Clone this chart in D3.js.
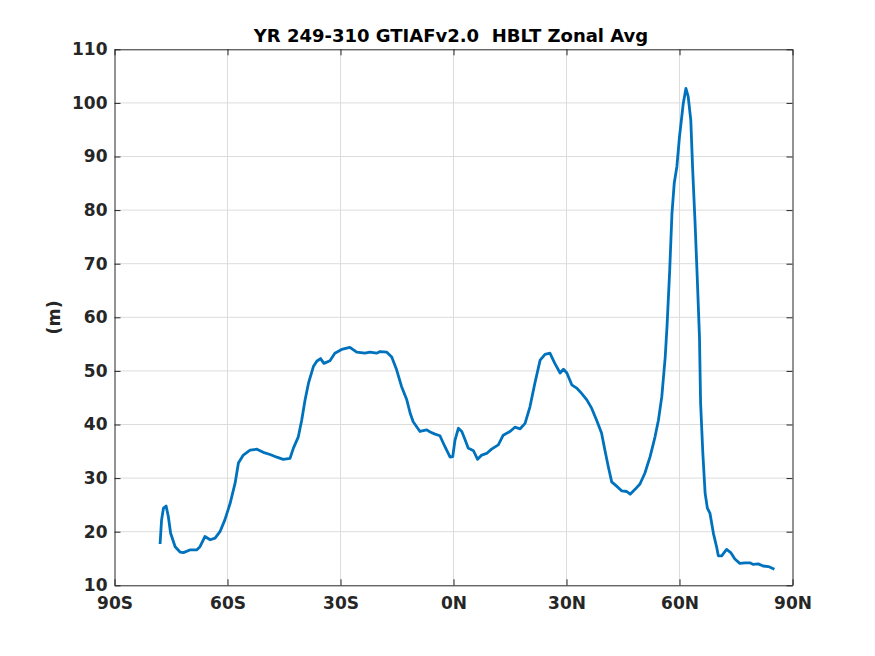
<!DOCTYPE html>
<html>
<head>
<meta charset="utf-8">
<script src="https://cdn.jsdelivr.net/npm/d3@7"></script>
<style>
  body { margin: 0; background: #fff; }
  svg { display: block; }
  text { font-family: "DejaVu Sans", sans-serif; font-weight: bold; white-space: pre; }
</style>
</head>
<body>
<svg id="chart" width="875" height="656"></svg>
<script>
// zonal average HBLT (m) vs latitude
var lat = [-77.9, -77.5, -77.0, -76.3, -75.7, -75.1, -73.9, -72.6, -71.7, -70.0,
    -68.2, -67.3, -66.0, -64.6, -63.3, -62.0, -60.7, -59.3, -58.0, -57.1,
    -55.8, -54.0, -52.2, -50.5, -48.7, -46.9, -45.2, -43.4, -42.5, -41.2,
    -40.3, -39.4, -38.5, -37.2, -36.3, -35.3, -34.4, -32.8, -31.5, -29.7,
    -27.5, -25.7, -23.5, -22.2, -20.4, -19.5, -17.7, -16.4, -15.1, -13.8,
    -12.4, -11.5, -10.7, -8.9, -7.1, -6.2, -4.9, -3.6, -2.3, -0.9,
    -0.2, 0.4, 1.3, 2.2, 3.1, 3.9, 5.3, 6.4, 7.5, 8.8,
    10.1, 11.9, 13.2, 15.0, 16.3, 17.7, 19.0, 20.3, 21.6, 23.0,
    24.3, 25.6, 26.9, 28.3, 29.2, 30.1, 31.4, 32.7, 34.0, 35.4,
    36.7, 38.0, 39.3, 40.2, 41.1, 42.0, 43.3, 44.7, 46.0, 46.9,
    48.2, 49.5, 50.8, 52.2, 53.5, 54.4, 55.3, 56.2, 56.7, 57.4,
    58.0, 58.6, 59.3, 60.0, 61.0, 61.7, 62.3, 63.0, 63.5, 64.1,
    64.7, 65.3, 65.6, 66.2, 66.8, 67.4, 68.1, 69.0, 69.9, 70.3,
    71.2, 72.5, 73.6, 74.7, 76.0, 77.4, 78.7, 79.6, 80.9, 82.2,
    83.6, 85.2];
var hblt = [17.7, 22.2, 24.4, 24.8, 22.8, 19.7, 17.2, 16.2, 16.1, 16.6,
    16.6, 17.2, 19.1, 18.5, 18.8, 20.0, 22.2, 25.3, 29.0, 32.8,
    34.3, 35.2, 35.4, 34.8, 34.4, 33.9, 33.5, 33.7, 35.6, 37.7,
    40.8, 44.6, 47.7, 50.8, 51.8, 52.3, 51.4, 51.9, 53.3, 54.0,
    54.4, 53.5, 53.3, 53.5, 53.3, 53.6, 53.5, 52.6, 50.2, 47.1,
    44.6, 42.1, 40.5, 38.7, 39.0, 38.6, 38.2, 37.9, 35.9, 33.9,
    34.0, 37.1, 39.3, 38.7, 37.1, 35.6, 35.1, 33.5, 34.3, 34.6,
    35.4, 36.2, 38.0, 38.7, 39.5, 39.2, 40.2, 43.3, 47.7, 52.0,
    53.1, 53.3, 51.4, 49.6, 50.3, 49.6, 47.4, 46.8, 45.8, 44.6,
    43.0, 40.8, 38.4, 35.2, 32.1, 29.3, 28.5, 27.6, 27.5, 27.0,
    27.9, 28.9, 30.9, 34.0, 37.7, 40.8, 45.2, 52.5, 58.5, 68.8,
    79.4, 85.0, 88.1, 93.7, 99.9, 102.7, 101.2, 96.8, 87.5, 78.2,
    67.6, 56.4, 44.0, 34.6, 27.2, 24.4, 23.4, 19.7, 17.0, 15.5,
    15.5, 16.7, 16.1, 14.9, 14.1, 14.2, 14.2, 13.9, 14.0, 13.6,
    13.5, 13.0];
var xTicks = [-90, -60, -30, 0, 30, 60, 90];
var xTickLabels = ["90S", "60S", "30S", "0N", "30N", "60N", "90N"];
var yTicks = [10, 20, 30, 40, 50, 60, 70, 80, 90, 100, 110];
var titleText = "YR 249-310 GTIAFv2.0  HBLT Zonal Avg";
var yLabelText = "(m)";

var margin = {left: 114.5, top: 49.3, right: 82.5, bottom: 70.7};
var width = 875 - margin.left - margin.right,
    height = 656 - margin.top - margin.bottom;

var svg = d3.select("#chart");
var g = svg.append("g")
    .attr("transform", "translate(" + margin.left + "," + margin.top + ")");

var x = d3.scaleLinear().domain([-90, 90]).range([0, width]);
var y = d3.scaleLinear().domain([10, 110]).range([height, 0]);

// grid
g.append("g").selectAll("line.gx")
    .data(xTicks.slice(1, -1))
    .enter().append("line")
    .attr("x1", function(d) { return x(d); })
    .attr("x2", function(d) { return x(d); })
    .attr("y1", 0).attr("y2", height)
    .attr("stroke", "#dcdcdc").attr("stroke-width", 1);
g.append("g").selectAll("line.gy")
    .data(yTicks.slice(1, -1))
    .enter().append("line")
    .attr("y1", function(d) { return y(d); })
    .attr("y2", function(d) { return y(d); })
    .attr("x1", 0).attr("x2", width)
    .attr("stroke", "#dcdcdc").attr("stroke-width", 1);

// data line
var line = d3.line()
    .x(function(d, i) { return x(lat[i]); })
    .y(function(d) { return y(d); });
g.append("path")
    .datum(hblt)
    .attr("d", line)
    .attr("fill", "none")
    .attr("stroke", "#0072BD")
    .attr("stroke-width", 2.8)
    .attr("stroke-linejoin", "round");

// axes, ticks pointing inward
var axisColor = "#262626";
function styleAxis(sel) {
    sel.selectAll("path").attr("stroke", axisColor);
    sel.selectAll("line").attr("stroke", axisColor);
    sel.selectAll("text").attr("fill", axisColor)
        .style("font-size", "17px").style("font-weight", "bold");
}

var xAxis = g.append("g")
    .attr("transform", "translate(0," + height + ")")
    .call(d3.axisBottom(x).tickValues(xTicks)
        .tickFormat(function(d, i) { return xTickLabels[i]; })
        .tickSizeInner(-6).tickSizeOuter(0).tickPadding(12));
styleAxis(xAxis);

var yAxis = g.append("g")
    .call(d3.axisLeft(y).tickValues(yTicks)
        .tickSizeInner(-6).tickSizeOuter(0).tickPadding(7));
styleAxis(yAxis);

var xTop = g.append("g")
    .call(d3.axisTop(x).tickValues(xTicks).tickFormat("")
        .tickSizeInner(-6).tickSizeOuter(0));
styleAxis(xTop);

var yRight = g.append("g")
    .attr("transform", "translate(" + width + ",0)")
    .call(d3.axisRight(y).tickValues(yTicks).tickFormat("")
        .tickSizeInner(-6).tickSizeOuter(0));
styleAxis(yRight);

// title
svg.append("text")
    .attr("x", 451)
    .attr("y", 42)
    .attr("text-anchor", "middle")
    .attr("fill", "#000")
    .style("font-size", "18px")
    .text(titleText);

// y label
svg.append("text")
    .attr("transform", "translate(60," + (margin.top + height / 2) + ") rotate(-90)")
    .attr("text-anchor", "middle")
    .attr("fill", axisColor)
    .style("font-size", "17.5px")
    .text(yLabelText);
</script>
</body>
</html>
